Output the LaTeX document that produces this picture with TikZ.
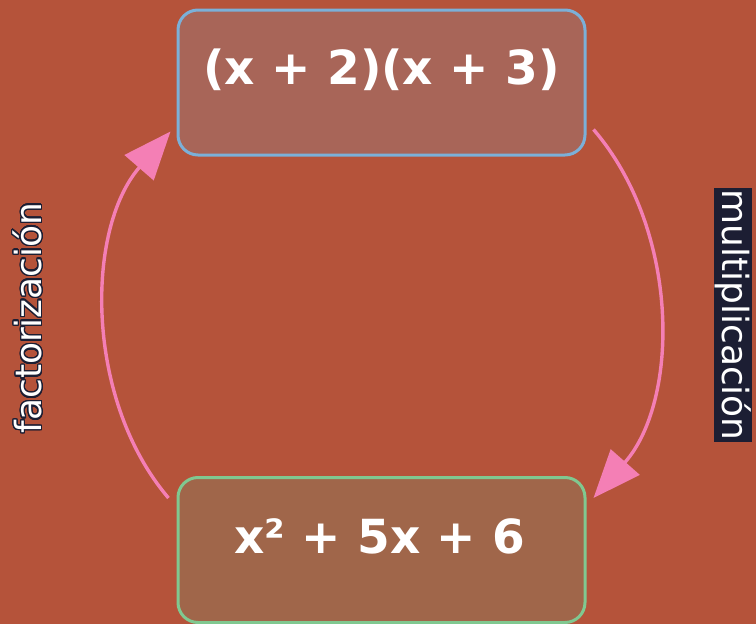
\documentclass[tikz,border=0pt]{standalone}
\usepackage{fontspec}
\setmainfont{DejaVu Sans}
\usepackage[copies]{contour}
\contourlength{1.4pt}
\contournumber{24}
\usetikzlibrary{arrows.meta}
\definecolor{bgred}{HTML}{B5533A}
\definecolor{topfill}{HTML}{A86558}
\definecolor{topline}{HTML}{7BB0D8}
\definecolor{botfill}{HTML}{A0664A}
\definecolor{botline}{HTML}{80C890}
\definecolor{pinkarrow}{HTML}{F47FB5}
\definecolor{darkink}{HTML}{1C1E33}
\tikzset{
  exprbox/.style={rounded corners=20pt, line width=3pt, minimum width=407pt, minimum height=145pt, inner sep=0pt},
  exprtext/.style={text=white, font=\fontsize{47}{50}\selectfont\bfseries, inner sep=0pt},
  flow/.style={draw=pinkarrow, line width=3.4pt, -{Triangle[length=48pt,width=38pt]}},
  sidelabel/.style={font=\fontsize{36}{40}\selectfont, inner sep=1pt}
}
\begin{document}
\begin{tikzpicture}[x=1pt,y=-1pt]
\fill[bgred] (0,0) rectangle (756,624);
\useasboundingbox (0,0) rectangle (756,624);
\node[exprbox, fill=topfill, draw=topline] (top) at (381.5,82.5) {};
\node[exprbox, fill=botfill, draw=botline] (bot) at (381.5,550) {};
\node[exprtext] (toptext) at (381.5,70) {(x + 2)(x + 3)};
\node[exprtext] (bottext) at (380,536) {x² + 5x + 6};
\draw[flow] ([shift={(-8,22)}]bot.north west) .. controls (85,400) and (85,230) .. ([shift={(-6,-25)}]top.south west);
\draw[flow] ([shift={(7,-27)}]top.south east) .. controls (680,230) and (680,400) .. ([shift={(7,22)}]bot.north east);
\node[sidelabel, rotate=90, text=white] (fact) at (28,318) {\contour{darkink}{factorización}};
\node[sidelabel, rotate=-90, text=white, fill=darkink] (mult) at (733,315) {multiplicación};
\end{tikzpicture}
\end{document}
